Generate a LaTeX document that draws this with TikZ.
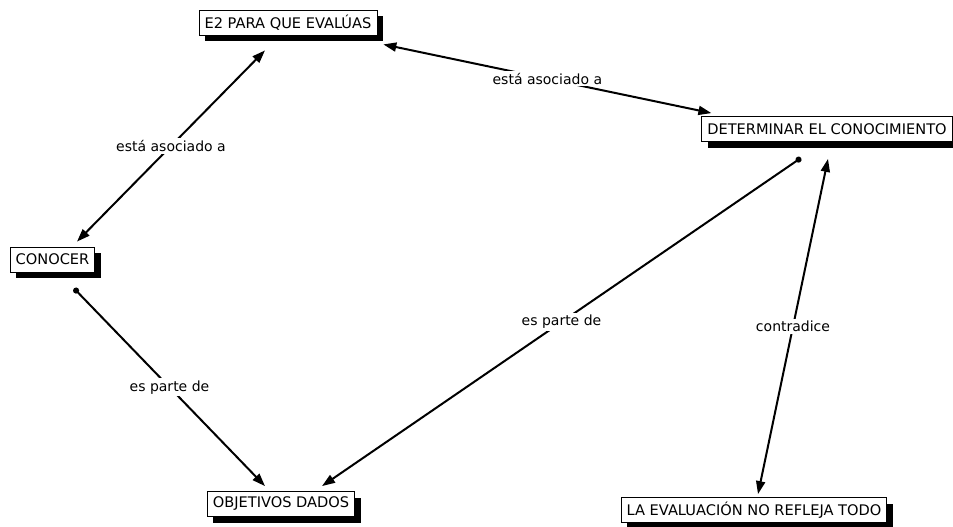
\documentclass[tikz,border=0pt]{standalone}
\usepackage{fontspec}
\setmainfont{DejaVu Sans}
\usetikzlibrary{arrows.meta, shadows}

\begin{document}
\begin{tikzpicture}[x=1pt,y=-1pt,font=\fontsize{14.6}{17}\selectfont]
    \tikzstyle{concept}=[shape=rectangle,draw,fill=white,line width=0.8pt,inner xsep=5.5pt,minimum height=25pt,drop shadow={shadow xshift=6pt,shadow yshift=-6pt,fill=black,opacity=1}]
    \tikzstyle{link}=[fill=white,inner sep=2pt,font=\fontsize{14}{16}\selectfont]
    \tikzstyle{twoway}=[{Triangle[length=13pt,width=9pt]}-{Triangle[length=13pt,width=9pt]}]
    \tikzstyle{oneway}=[{Circle[length=6pt]}-{Triangle[length=13pt,width=9pt]}]
    \useasboundingbox (0,0) rectangle (953,527);

    \node[concept] (E2) at (288,22.5) {E2 PARA QUE EVALÚAS};
    \node[concept] (Det) at (827,129) {DETERMINAR EL CONOCIMIENTO};
    \node[concept] (Con) at (52.5,259.5) {CONOCER};
    \node[concept] (Obj) at (281,504) {OBJETIVOS DADOS};
    \node[concept] (Eva) at (754,510) {LA EVALUACIÓN NO REFLEJA TODO};

    \path[draw,line width=2pt]
    ([shift={(-23,15)}]E2.south) edge[twoway] node[link] {está asociado a} ([shift={(24.5,-5)}]Con.north)
    ([shift={(6,9)}]E2.south east) edge[twoway] node[link] {está asociado a} ([shift={(10,-3)}]Det.north west)
    ([shift={(21.5,16)}]Con.south) edge[oneway] node[link] {es parte de} ([shift={(-16,-5)}]Obj.north)
    ([shift={(-26,16)}]Det.south) edge[oneway] node[link] {es parte de} ([shift={(41,-5)}]Obj.north)
    ([shift={(1,17)}]Det.south) edge[twoway] node[link] {contradice} ([shift={(4,-3)}]Eva.north)
   ;

\end{tikzpicture}
\end{document}
